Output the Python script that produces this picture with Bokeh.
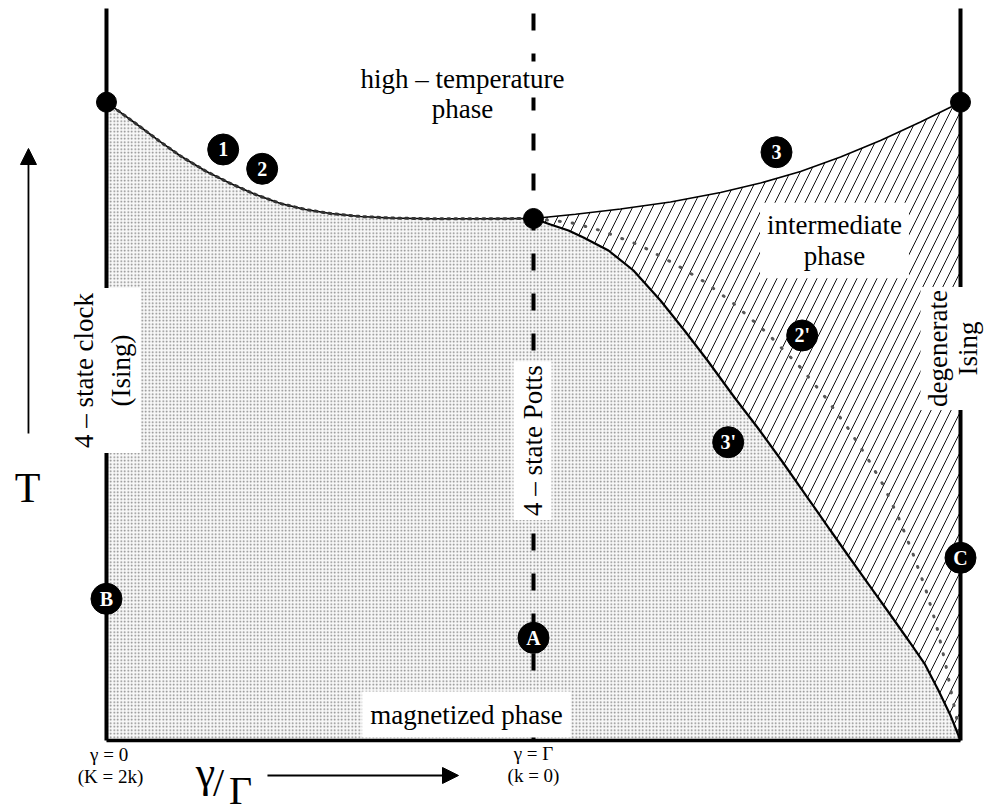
from bokeh.plotting import figure
from bokeh.models import Range1d, Label, Arrow, NormalHead
from bokeh.embed import file_html
from bokeh.resources import INLINE
from bokeh.core.properties import value

# x = gamma / Gamma ; y = T (arbitrary units, T of the 4-state Potts point = 1)
curve12_x = [0.0, 0.0328, 0.0796, 0.1265, 0.1733, 0.2319, 0.2904, 0.3489,
             0.4075, 0.4660, 0.5246, 0.5948, 0.6651, 0.7588, 0.8759, 1.0]
curve12_T = [1.2228, 1.2031, 1.1753, 1.1466, 1.1197, 1.0910, 1.0670, 1.0460,
             1.0287, 1.0172, 1.0096, 1.0038, 1.0010, 0.9994, 0.9994, 1.0]

curve3_x = [1.0, 1.0984, 1.2037, 1.3208, 1.4379, 1.5316, 1.6253, 1.7190,
            1.8126, 1.9063, 2.0]
curve3_T = [1.0, 1.0080, 1.0182, 1.0316, 1.0498, 1.0680, 1.0900, 1.1178,
            1.1494, 1.1849, 1.2228]

curve3p_x = [1.0, 1.0398, 1.0820, 1.1171, 1.1756, 1.2342, 1.2974, 1.3536,
             1.4075, 1.4707, 1.5246, 1.5808, 1.6417, 1.6956, 1.7400, 1.7869,
             1.8337, 1.8782, 1.9157, 1.9485, 1.9766, 2.0]
curve3p_T = [1.0, 0.9885, 0.9770, 0.9636, 0.9387, 0.9004, 0.8429, 0.7854,
             0.7280, 0.6571, 0.5996, 0.5364, 0.4655, 0.4023, 0.3506, 0.2969,
             0.2433, 0.1916, 0.1475, 0.0958, 0.0479, 0.0]

curve2p_x = [1.0, 1.0867, 1.1569, 1.2506, 1.3372, 1.4028, 1.4684, 1.5480,
             1.6253, 1.6838, 1.7354, 1.7799, 1.8197, 1.8548, 1.8876, 1.9180,
             1.9438, 1.9649, 1.9813, 1.9930, 2.0]
curve2p_T = [1.0, 0.9923, 0.9770, 0.9483, 0.9100, 0.8774, 0.8372, 0.7797,
             0.7146, 0.6571, 0.5996, 0.5441, 0.4885, 0.4272, 0.3602, 0.2912,
             0.2203, 0.1475, 0.0805, 0.0345, 0.0]

special_x = [0.0, 1.0, 2.0]
special_T = [1.2228, 1.0, 1.2228]

marker_text = ["1", "2", "3", "2'", "3'", "A", "B", "C"]
marker_x = [0.2733, 0.3646, 1.5691, 1.6292, 1.4560, 1.0, 0.0, 2.0]
marker_T = [1.1322, 1.0952, 1.1270, 0.7759, 0.5715, 0.1967, 0.2714, 0.3500]

edge_x = [0.0, 2.0]
potts_x = [1.0]
T_top = 1.4023

SERIF = "Liberation Serif"

p = figure(width=984, height=812, x_range=Range1d(-0.2482, 2.0562),
           y_range=Range1d(-0.1379, 1.4176), output_backend="svg",
           toolbar_location=None, min_border=0,
           x_axis_location=None, y_axis_location=None)
p.grid.visible = False
p.outline_line_color = None
p.background_fill_color = "white"

# magnetized phase region (stippled)
mag_x = curve12_x + curve3p_x[1:] + [0.0]
mag_T = curve12_T + curve3p_T[1:] + [0.0]
p.patch(mag_x, mag_T, fill_color="#f8f8f8", line_color=None,
        hatch_pattern=".", hatch_scale=3.5, hatch_weight=1.2, hatch_color="#808080")

# intermediate phase region (hatched)
int_x = curve3_x + curve3p_x[::-1]
int_T = curve3_T + curve3p_T[::-1]
p.patch(int_x, int_T, fill_color="white", line_color=None,
        hatch_pattern="/", hatch_scale=20, hatch_weight=1.0, hatch_color="#111111")

# dotted curve 2'
p.line(curve2p_x, curve2p_T, line_color="#555555", line_width=3,
       line_dash="1 12", line_cap="round")

# boundary curves
p.line(curve12_x, curve12_T, line_color="black", line_width=1.6)
p.line(curve12_x, curve12_T, line_color="#333333", line_width=3,
       line_dash="2 5", line_cap="round")
p.line(curve3_x, curve3_T, line_color="black", line_width=1.6)
p.line(curve3p_x, curve3p_T, line_color="black", line_width=2.2)

# frame lines
p.segment(x0=edge_x, y0=[0.0] * len(edge_x), x1=edge_x, y1=[T_top] * len(edge_x),
          line_color="black", line_width=4)
p.segment(x0=[edge_x[0]], y0=[0.0], x1=[edge_x[-1]], y1=[0.0],
          line_color="black", line_width=3.5)
p.segment(x0=potts_x, y0=[T_top], x1=potts_x, y1=[0.0], line_color="black",
          line_width=4, line_dash="17 23", line_dash_offset=35)

# special points
p.scatter(special_x, special_T, size=20, color="black")

# circled labels
p.scatter(marker_x, marker_T, size=31, color="black")
p.text(marker_x, marker_T, text=marker_text, text_color="white",
       text_font=value(SERIF), text_font_style="bold", text_font_size="20px",
       text_align="center", text_baseline="middle")


def lab(x, y, text, size="27px", angle=0.0, bg=None, pad=0, align="center",
        baseline="middle", lh=1.2):
    L = Label(x=x, y=y, text=text, text_font=SERIF, text_font_size=size,
              text_align=align, text_baseline=baseline, angle=angle,
              text_line_height=lh, text_color="black")
    if bg is not None:
        L.background_fill_color = bg
        L.padding = pad
    p.add_layout(L)


HALF_PI = 1.5707963

lab(0.8337, 1.2663, "high \u2013 temperature", bg="white", pad=3)
lab(0.8337, 1.2088, "phase")
lab(1.7049, 0.9580, "intermediate\nphase", bg="white", pad=7, lh=1.05)
lab(0.8431, 0.0498, "magnetized phase", bg="white", pad=8)
lab(0.9977, 0.5747, "4 \u2013 state Potts", angle=HALF_PI, bg="white", pad=4)
lab(-0.0094, 0.7088, "4 \u2013 state clock\n(Ising)", angle=HALF_PI, bg="white",
    pad=5, lh=1.22)
lab(1.9836, 0.7510, "degenerate\nIsing", angle=HALF_PI, bg="white", pad=3, lh=1.0)

lab(0.0117, -0.0268, "\u03b3 =  0", size="19px")
lab(0.0094, -0.0690, "(K = 2k)", size="19px")
lab(1.0, -0.0249, "\u03b3 = \u0393", size="19px")
lab(1.0, -0.0670, "(k = 0)", size="19px")

lab(0.2319, -0.0613, "\u03b3", size="44px", baseline="alphabetic", lh=1.0)
lab(0.2623, -0.0805, "/", size="40px", baseline="alphabetic", lh=1.0)
lab(0.3138, -0.0958, "\u0393", size="40px", baseline="alphabetic", lh=1.0)
lab(-0.1850, 0.4828, "T", size="42px", baseline="alphabetic")

p.add_layout(Arrow(x_start=0.3770, y_start=-0.0670, x_end=0.8244, y_end=-0.0670,
                   line_width=1.8, line_color="black",
                   end=NormalHead(size=16, fill_color="black", line_color="black")))
p.add_layout(Arrow(x_start=-0.1827, y_start=0.5881, x_end=-0.1827, y_end=1.1341,
                   line_width=1.8, line_color="black",
                   end=NormalHead(size=16, fill_color="black", line_color="black")))

open("out.html", "w").write(file_html(p, INLINE))
